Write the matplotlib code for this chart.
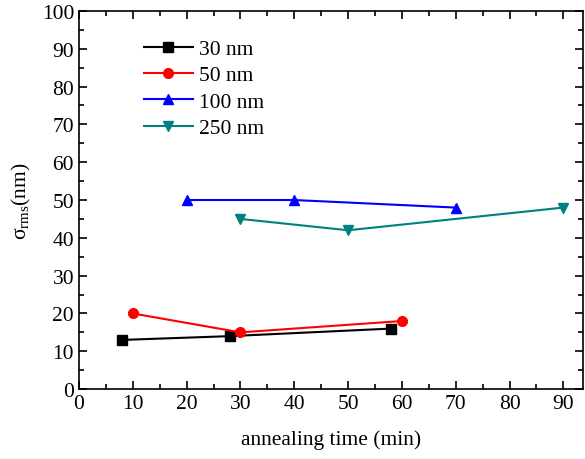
import matplotlib.pyplot as plt
from matplotlib.ticker import MultipleLocator

plt.rcParams['font.family'] = ['Liberation Serif', 'DejaVu Serif']
plt.rcParams['mathtext.fontset'] = 'custom'
plt.rcParams['mathtext.rm'] = 'Liberation Serif'
plt.rcParams['mathtext.it'] = 'Liberation Serif:italic'

# roughness vs annealing time for each film thickness
t_30 = [8, 28, 58]
s_30 = [13, 14, 16]
t_50 = [10, 30, 60]
s_50 = [20, 15, 18]
t_100 = [20, 40, 70]
s_100 = [50, 50, 48]
t_250 = [30, 50, 90]
s_250 = [45, 42, 48]

fig = plt.figure(figsize=(5.85, 4.6), dpi=100)
ax = fig.add_axes([0.135, 0.152, 0.862, 0.822])

ax.plot(t_30, s_30, color='black', marker='s', ms=6.5, lw=1.5, label='30 nm')
ax.plot(t_50, s_50, color='red', marker='o', ms=7, lw=1.5, label='50 nm')
ax.plot(t_100, s_100, color='blue', marker='^', ms=7, lw=1.5, label='100 nm')
ax.plot(t_250, s_250, color='#008080', marker='v', ms=7, lw=1.5, label='250 nm')

ax.set_xlim(0, 93.7)
ax.set_ylim(0, 100)
ax.xaxis.set_major_locator(MultipleLocator(10))
ax.xaxis.set_minor_locator(MultipleLocator(5))
ax.yaxis.set_major_locator(MultipleLocator(10))
ax.yaxis.set_minor_locator(MultipleLocator(5))
ax.tick_params(which='both', direction='in', top=True, right=True,
               labelsize=15.5, width=1.2)
ax.tick_params(which='major', length=6)
ax.tick_params(which='minor', length=3.5)
for sp in ax.spines.values():
    sp.set_linewidth(1.2)

ax.set_xlabel('annealing time (min)', fontsize=15.5, labelpad=12)
ax.set_ylabel('σ$_{\\mathrm{rms}}$(nm)', fontsize=15.5, labelpad=6)

ax.legend(loc='upper left', bbox_to_anchor=(0.09, 0.977), frameon=False,
          fontsize=15.5, handlelength=2.3, handletextpad=0.25,
          labelspacing=0.29)

fig.savefig('out.png', dpi=100)
